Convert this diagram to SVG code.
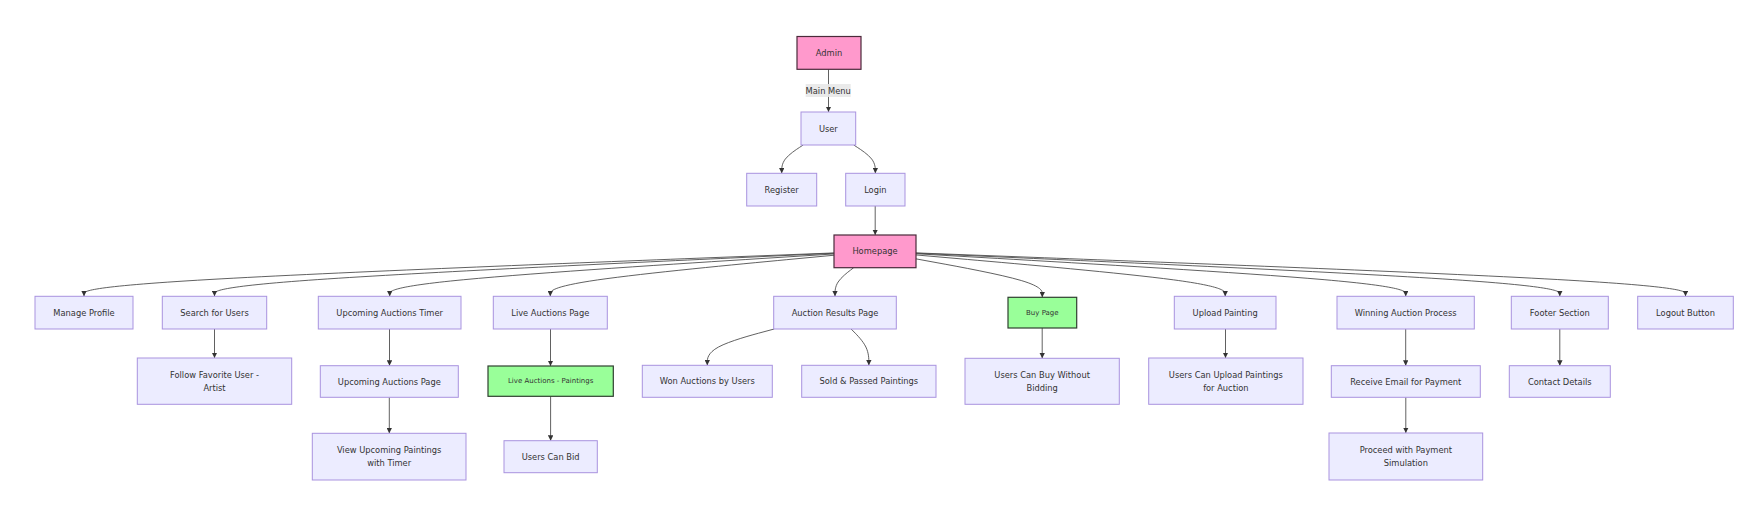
<svg xmlns="http://www.w3.org/2000/svg" width="1757" height="505" viewBox="0 0 1757 505">
<style>
  .n rect { fill: #ECECFF; stroke: #A993DF; stroke-width: 1; }
  .pink rect { fill: #FF99CC; stroke: #4a2a3a; stroke-width: 1.2; }
  .green rect { fill: #99FF99; stroke: #2f3f2f; stroke-width: 1.2; }
  text { font-family: "DejaVu Sans", Verdana, sans-serif; font-size: 8.3px; fill: #333333; text-anchor: middle; dominant-baseline: central; }
  .green text { font-size: 7px; }
  .edges path { fill: none; stroke: #444444; stroke-width: 0.85; marker-end: url(#arrow); }
</style>
<defs>
  <marker id="arrow" viewBox="0 0 10 10" refX="10" refY="5" markerWidth="5.5" markerHeight="5.5" markerUnits="userSpaceOnUse" orient="auto">
    <path d="M0,0 L10,5 L0,10 z" fill="#333333"/>
  </marker>
</defs>
<rect width="1757" height="505" fill="#ffffff"/>

<g id="connectors" class="edges">
  <path d="M828.5,69.3 L828.5,112"/>
  <path d="M803.18,145 L799.6,147.35 C796.02,149.69 788.86,154.39 785.28,159.1 C781.7,163.82 781.7,168.56 781.7,170.93 L781.7,173.3"/>
  <path d="M853.71,145 L857.32,147.35 C860.92,149.69 868.14,154.39 871.74,159.1 C875.35,163.82 875.35,168.56 875.35,170.93 L875.35,173.3"/>
  <path d="M875.2,206 L875.2,235"/>
  <path d="M834,252.94 L709,257.78 C584,262.63 334,272.31 209,279.54 C84,286.77 84,291.53 84,293.92 L84,296.3"/>
  <path d="M834,253.25 L730.75,258.04 C627.5,262.83 421,272.42 317.75,279.59 C214.5,286.77 214.5,291.53 214.5,293.92 L214.5,296.3"/>
  <path d="M834,253.94 L759.95,258.62 C685.9,263.29 537.8,272.65 463.75,279.71 C389.7,286.77 389.7,291.53 389.7,293.92 L389.7,296.3"/>
  <path d="M834,255.22 L786.72,259.68 C739.43,264.15 644.87,273.07 597.58,279.92 C550.3,286.77 550.3,291.53 550.3,293.92 L550.3,296.3"/>
  <path d="M853.66,267.7 L850.55,270.08 C847.44,272.47 841.22,277.23 838.11,282 C835,286.77 835,291.53 835,293.92 L835,296.3"/>
  <path d="M916,258.86 L937.05,262.72 C958.1,266.57 1000.2,274.29 1021.25,280.53 C1042.3,286.77 1042.3,291.53 1042.3,293.92 L1042.3,297.3"/>
  <path d="M916,254.94 L967.53,259.45 C1019.07,263.96 1122.13,272.98 1173.67,279.87 C1225.2,286.77 1225.2,291.53 1225.2,293.92 L1225.2,296.3"/>
  <path d="M916,253.72 L997.62,258.43 C1079.23,263.15 1242.47,272.57 1324.08,279.67 C1405.7,286.77 1405.7,291.53 1405.7,293.92 L1405.7,296.3"/>
  <path d="M916,253.19 L1023.3,257.99 C1130.6,262.79 1345.2,272.4 1452.5,279.58 C1559.8,286.77 1559.8,291.53 1559.8,293.92 L1559.8,296.3"/>
  <path d="M916,252.9 L1044.25,257.75 C1172.5,262.6 1429,272.3 1557.25,279.53 C1685.5,286.77 1685.5,291.53 1685.5,293.92 L1685.5,296.3"/>
  <path d="M774.18,329 L763.03,332 C751.89,334.99 729.59,340.99 718.45,347.04 C707.3,353.09 707.3,359.19 707.3,362.25 L707.3,365.3"/>
  <path d="M851.12,329 L854.08,332 C857.03,334.99 862.94,340.99 865.9,347.04 C868.85,353.09 868.85,359.19 868.85,362.25 L868.85,365.3"/>
  <path d="M214.5,329 L214.5,358"/>
  <path d="M389.5,329 L389.5,365.7"/>
  <path d="M389.3,397.3 L389.3,433.3"/>
  <path d="M550.5,329 L550.5,366"/>
  <path d="M550.6,396.3 L550.6,440.7"/>
  <path d="M1042.2,328 L1042.2,358.3"/>
  <path d="M1225.5,329 L1225.5,358"/>
  <path d="M1405.7,329 L1405.7,365.7"/>
  <path d="M1405.8,397.3 L1405.8,433"/>
  <path d="M1559.8,329 L1559.8,365.7"/>
</g>

<g id="edge-label-main-menu">
  <rect x="805.7" y="84" width="45" height="13" fill="#e8e8e8" opacity="0.9"/>
  <text x="828.2" y="90.5">Main Menu</text>
</g>

<g id="admin" class="pink"><rect x="797" y="36.5" width="64" height="32.8"/><text x="829" y="52.9">Admin</text></g>
<g id="user" class="n"><rect x="801" y="112" width="54.7" height="33"/><text x="828.35" y="128.5">User</text></g>
<g id="register" class="n"><rect x="746.7" y="173.3" width="70" height="32.7"/><text x="781.7" y="189.65">Register</text></g>
<g id="login" class="n"><rect x="845.7" y="173.3" width="59.3" height="32.7"/><text x="875.35" y="189.65">Login</text></g>
<g id="homepage" class="pink"><rect x="834" y="235" width="82" height="32.7"/><text x="875" y="251.35">Homepage</text></g>

<g id="manage-profile" class="n"><rect x="35" y="296.3" width="98" height="32.7"/><text x="84" y="312.65">Manage Profile</text></g>
<g id="search-users" class="n"><rect x="162.3" y="296.3" width="104.4" height="32.7"/><text x="214.5" y="312.65">Search for Users</text></g>
<g id="upcoming-timer" class="n"><rect x="318.3" y="296.3" width="142.7" height="32.7"/><text x="389.65" y="312.65">Upcoming Auctions Timer</text></g>
<g id="live-auctions-page" class="n"><rect x="493.3" y="296.3" width="114" height="32.7"/><text x="550.3" y="312.65">Live Auctions Page</text></g>
<g id="auction-results" class="n"><rect x="773.7" y="296.3" width="122.6" height="32.7"/><text x="835" y="312.65">Auction Results Page</text></g>
<g id="buy-page" class="green"><rect x="1008" y="297.3" width="68.7" height="30.7"/><text x="1042.35" y="312.65">Buy Page</text></g>
<g id="upload-painting" class="n"><rect x="1174.3" y="296.3" width="101.7" height="32.7"/><text x="1225.15" y="312.65">Upload Painting</text></g>
<g id="winning-process" class="n"><rect x="1337" y="296.3" width="137.3" height="32.7"/><text x="1405.65" y="312.65">Winning Auction Process</text></g>
<g id="footer-section" class="n"><rect x="1511.3" y="296.3" width="97" height="32.7"/><text x="1559.8" y="312.65">Footer Section</text></g>
<g id="logout-button" class="n"><rect x="1637.7" y="296.3" width="95.6" height="32.7"/><text x="1685.5" y="312.65">Logout Button</text></g>

<g id="follow-user" class="n"><rect x="137.3" y="358" width="154.4" height="46.3"/><text x="214.5" y="374.6">Follow Favorite User -</text><text x="214.5" y="387.9">Artist</text></g>
<g id="upcoming-page" class="n"><rect x="320.3" y="365.7" width="138" height="31.6"/><text x="389.3" y="381.5">Upcoming Auctions Page</text></g>
<g id="view-upcoming" class="n"><rect x="312.3" y="433.3" width="153.7" height="46.7"/><text x="389.15" y="450">View Upcoming Paintings</text><text x="389.15" y="463.3">with Timer</text></g>
<g id="live-paintings" class="green"><rect x="488" y="366" width="125.3" height="30.3"/><text x="550.65" y="381.15">Live Auctions - Paintings</text></g>
<g id="users-can-bid" class="n"><rect x="504" y="440.7" width="93.3" height="32"/><text x="550.65" y="456.7">Users Can Bid</text></g>
<g id="won-auctions" class="n"><rect x="642.3" y="365.3" width="130" height="32"/><text x="707.3" y="381.3">Won Auctions by Users</text></g>
<g id="sold-passed" class="n"><rect x="801.7" y="365.3" width="134.3" height="32"/><text x="868.85" y="381.3">Sold &amp; Passed Paintings</text></g>
<g id="buy-without-bidding" class="n"><rect x="965" y="358.3" width="154.3" height="46"/><text x="1042.15" y="374.7">Users Can Buy Without</text><text x="1042.15" y="388">Bidding</text></g>
<g id="upload-for-auction" class="n"><rect x="1148.7" y="358" width="154.3" height="46.3"/><text x="1225.85" y="374.6">Users Can Upload Paintings</text><text x="1225.85" y="387.9">for Auction</text></g>
<g id="receive-email" class="n"><rect x="1331.3" y="365.7" width="149" height="31.6"/><text x="1405.8" y="381.5">Receive Email for Payment</text></g>
<g id="proceed-payment" class="n"><rect x="1329" y="433" width="153.7" height="47"/><text x="1405.85" y="449.8">Proceed with Payment</text><text x="1405.85" y="463.1">Simulation</text></g>
<g id="contact-details" class="n"><rect x="1509.3" y="365.7" width="101" height="31.6"/><text x="1559.8" y="381.5">Contact Details</text></g>
</svg>
